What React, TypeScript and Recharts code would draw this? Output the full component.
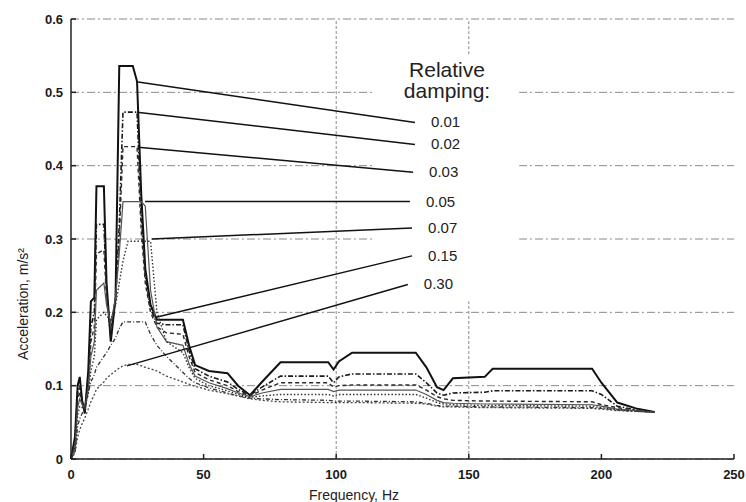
import React from "react";
import {
  LineChart,
  Line,
  XAxis,
  YAxis,
  CartesianGrid,
  ReferenceLine,
  ReferenceArea,
} from "recharts";

// frequency grid, Hz
const freq = [
  0, 1.5, 2.5, 3.3, 4.2, 5.2, 6.5, 7.5, 8.8, 9.6, 12.4, 13.4, 15, 16.8, 18.2, 19.6, 21.5, 23.3, 24.9,
  26.5, 28, 30, 32.4, 36, 42.2, 44.5, 46.8, 52, 59, 63, 67.5, 72, 79, 97, 99, 101, 106, 130, 134, 138,
  140.5, 144, 156, 159, 196.5, 200, 206, 213, 220,
];

// acceleration spectra, m/s^2, one per relative damping
const damp001 = [
  0, 0.03, 0.1, 0.112, 0.08, 0.062, 0.12, 0.215, 0.22, 0.372, 0.372, 0.24, 0.16, 0.22, 0.536, 0.536,
  0.536, 0.536, 0.515, 0.36, 0.26, 0.21, 0.19, 0.19, 0.19, 0.155, 0.128, 0.12, 0.117, 0.1, 0.087,
  0.105, 0.132, 0.132, 0.122, 0.133, 0.145, 0.145, 0.125, 0.098, 0.094, 0.11, 0.112, 0.123, 0.123,
  0.104, 0.077, 0.069, 0.064,
];
const damp002 = [
  0, 0.025, 0.09, 0.1, 0.078, 0.065, 0.11, 0.18, 0.2, 0.32, 0.32, 0.23, 0.165, 0.22, 0.32, 0.473,
  0.473, 0.473, 0.473, 0.33, 0.25, 0.205, 0.185, 0.183, 0.183, 0.148, 0.123, 0.113, 0.105, 0.095,
  0.087, 0.098, 0.113, 0.113, 0.104, 0.112, 0.116, 0.116, 0.104, 0.09, 0.087, 0.09, 0.091, 0.093,
  0.093, 0.088, 0.072, 0.067, 0.064,
];
const damp003 = [
  0, 0.02, 0.08, 0.092, 0.076, 0.068, 0.1, 0.16, 0.18, 0.28, 0.285, 0.22, 0.175, 0.22, 0.3, 0.426,
  0.426, 0.426, 0.426, 0.31, 0.24, 0.2, 0.18, 0.172, 0.17, 0.14, 0.118, 0.108, 0.1, 0.092, 0.086,
  0.094, 0.104, 0.104, 0.098, 0.1, 0.101, 0.101, 0.094, 0.085, 0.082, 0.08, 0.079, 0.079, 0.078,
  0.074, 0.07, 0.066, 0.064,
];
const damp005 = [
  0, 0.015, 0.07, 0.082, 0.074, 0.07, 0.095, 0.14, 0.16, 0.23, 0.24, 0.21, 0.185, 0.22, 0.28, 0.351,
  0.351, 0.351, 0.351, 0.351, 0.345, 0.23, 0.18, 0.16, 0.155, 0.13, 0.113, 0.104, 0.096, 0.09, 0.085,
  0.09, 0.095, 0.095, 0.092, 0.094, 0.094, 0.094, 0.088, 0.08, 0.077, 0.076, 0.075, 0.075, 0.074,
  0.072, 0.068, 0.066, 0.064,
];
const damp007 = [
  0, 0.012, 0.06, 0.072, 0.07, 0.07, 0.088, 0.12, 0.14, 0.19, 0.2, 0.195, 0.19, 0.21, 0.24, 0.27,
  0.297, 0.297, 0.297, 0.297, 0.297, 0.297, 0.2, 0.16, 0.145, 0.125, 0.11, 0.1, 0.093, 0.088, 0.084,
  0.086, 0.088, 0.088, 0.086, 0.088, 0.088, 0.088, 0.083, 0.077, 0.075, 0.074, 0.073, 0.073, 0.072,
  0.07, 0.067, 0.065, 0.064,
];
const damp015 = [
  0, 0.01, 0.045, 0.055, 0.062, 0.07, 0.09, 0.105, 0.115, 0.125, 0.14, 0.145, 0.155, 0.165, 0.178,
  0.187, 0.187, 0.187, 0.187, 0.187, 0.187, 0.17, 0.155, 0.14, 0.118, 0.11, 0.104, 0.097, 0.09,
  0.086, 0.083, 0.082, 0.081, 0.08, 0.079, 0.079, 0.079, 0.078, 0.076, 0.073, 0.072, 0.072, 0.071,
  0.071, 0.07, 0.069, 0.067, 0.065, 0.064,
];
const damp030 = [
  0, 0.008, 0.03, 0.04, 0.048, 0.056, 0.068, 0.078, 0.088, 0.095, 0.105, 0.11, 0.115, 0.12, 0.124,
  0.127, 0.129, 0.129, 0.129, 0.127, 0.125, 0.123, 0.12, 0.113, 0.105, 0.102, 0.099, 0.094, 0.089,
  0.086, 0.082, 0.08, 0.078, 0.077, 0.077, 0.077, 0.077, 0.076, 0.075, 0.072, 0.071, 0.071, 0.07,
  0.07, 0.069, 0.068, 0.066, 0.065, 0.064,
];

const dampingLabels = ["0.01", "0.02", "0.03", "0.05", "0.07", "0.15", "0.30"];

// leader lines from each curve's peak out to its damping label [Hz, m/s^2]
const leaderStart = [
  [25.3, 0.514], [24.9, 0.473], [25.3, 0.425], [27.9, 0.351], [30.5, 0.3], [31.7, 0.193], [21.1, 0.127],
];
const leaderEnd = [
  [129.7, 0.459], [129.7, 0.429], [129, 0.391], [127.8, 0.351], [128.6, 0.315], [128.6, 0.277], [127, 0.238],
];

const xTicks = [0, 50, 100, 150, 200, 250];
const yTicks = [0, 0.1, 0.2, 0.3, 0.4, 0.5, 0.6];

const seriesValues = [damp001, damp002, damp003, damp005, damp007, damp015, damp030];
const seriesKeys = ["d001", "d002", "d003", "d005", "d007", "d015", "d030"];
const seriesStyle = [
  { stroke: "#111", width: 2, dash: undefined },
  { stroke: "#1a1a1a", width: 1.6, dash: "5 2 1.5 2" },
  { stroke: "#2a2a2a", width: 1.4, dash: "4 3" },
  { stroke: "#555", width: 1.2, dash: undefined },
  { stroke: "#333", width: 1.4, dash: "1.5 2" },
  { stroke: "#333", width: 1.3, dash: "4 2 1 2" },
  { stroke: "#444", width: 1.3, dash: "2 2" },
];

const data = freq.map((f, i) => {
  const row: Record<string, number> = { f };
  seriesKeys.forEach((k, s) => (row[k] = seriesValues[s][i]));
  return row;
});

const leaders = dampingLabels.map((label, i) => ({
  label,
  points: [
    { f: leaderStart[i][0], v: leaderStart[i][1] },
    { f: leaderEnd[i][0], v: leaderEnd[i][1] },
  ],
}));

const FONT = "'Liberation Sans', Arial, sans-serif";
const tickStyle = { fontSize: 13, fill: "#1a1a1a", fontFamily: FONT, fontWeight: 700 };
const gridStroke = "#8a8a8a";

const leaderLabel = (text: string) => (props: any) => {
  const { x, y, index } = props;
  if (index !== 1) return null;
  return (
    <text x={x + 16} y={y + 5} fontSize={15} fill="#222" fontFamily={FONT}>
      {text}
    </text>
  );
};

export default function App() {
  return (
    <div style={{ position: "absolute", left: 0, top: 0, width: 746, height: 502, background: "#fff" }}>
      <LineChart width={746} height={502} data={data} margin={{ top: 19, right: 12, bottom: 13, left: 31 }}>
        <CartesianGrid vertical={false} stroke={gridStroke} strokeDasharray="8 3 2 3" />
        <ReferenceArea x1={114} x2={169} y1={0.215} y2={0.552} fill="#fff" fillOpacity={1} stroke="none" />
        <ReferenceLine x={100} stroke={gridStroke} strokeDasharray="3 2" />
        <ReferenceLine segment={[{ x: 150, y: 0 }, { x: 150, y: 0.215 }]} stroke={gridStroke} strokeDasharray="3 2" />
        <ReferenceLine segment={[{ x: 150, y: 0.552 }, { x: 150, y: 0.6 }]} stroke={gridStroke} strokeDasharray="3 2" />
        <XAxis
          dataKey="f"
          type="number"
          domain={[0, 250]}
          ticks={xTicks}
          tick={tickStyle}
          tickSize={-5}
          tickMargin={16}
          stroke="#222"
          strokeWidth={1.5}
        />
        <XAxis
          xAxisId="top"
          orientation="top"
          dataKey="f"
          type="number"
          domain={[0, 250]}
          ticks={xTicks}
          height={0}
          tickFormatter={() => ""}
          tickSize={-5}
          stroke="#222"
          strokeWidth={1.5}
        />
        <YAxis
          type="number"
          domain={[0, 0.6]}
          ticks={yTicks}
          width={40}
          tick={tickStyle}
          tickFormatter={(v: number) => (v === 0 ? "0" : String(v))}
          tickSize={-5}
          tickMargin={13}
          stroke="#222"
          strokeWidth={1.5}
        />
        <YAxis
          yAxisId="right"
          orientation="right"
          type="number"
          domain={[0, 0.6]}
          ticks={yTicks}
          width={0}
          tickFormatter={() => ""}
          tickSize={-5}
          stroke="#222"
          strokeWidth={1.5}
        />
        {seriesKeys.map((k, s) => (
          <Line
            key={k}
            dataKey={k}
            type="linear"
            stroke={seriesStyle[s].stroke}
            strokeWidth={seriesStyle[s].width}
            strokeDasharray={seriesStyle[s].dash}
            dot={false}
            activeDot={false}
            isAnimationActive={false}
          />
        ))}
        {leaders.map((l) => (
          <Line
            key={"leader" + l.label}
            data={l.points}
            dataKey="v"
            type="linear"
            stroke="#111"
            strokeWidth={1.5}
            dot={false}
            activeDot={false}
            label={leaderLabel(l.label)}
            isAnimationActive={false}
          />
        ))}
      </LineChart>
      <svg
        width={746}
        height={502}
        style={{ position: "absolute", left: 0, top: 0, pointerEvents: "none" }}
        fontFamily={FONT}
      >
        <text x={447} y={77} textAnchor="middle" fontSize={21} fill="#222">
          Relative
        </text>
        <text x={447} y={98} textAnchor="middle" fontSize={21} fill="#222">
          damping:
        </text>
        <text x={354} y={500} textAnchor="middle" fontSize={14} fill="#222">
          Frequency, Hz
        </text>
        <text x={28} y={304} textAnchor="middle" fontSize={14} fill="#222" transform="rotate(-90 28 304)">
          Acceleration, m/s²
        </text>
      </svg>
    </div>
  );
}
